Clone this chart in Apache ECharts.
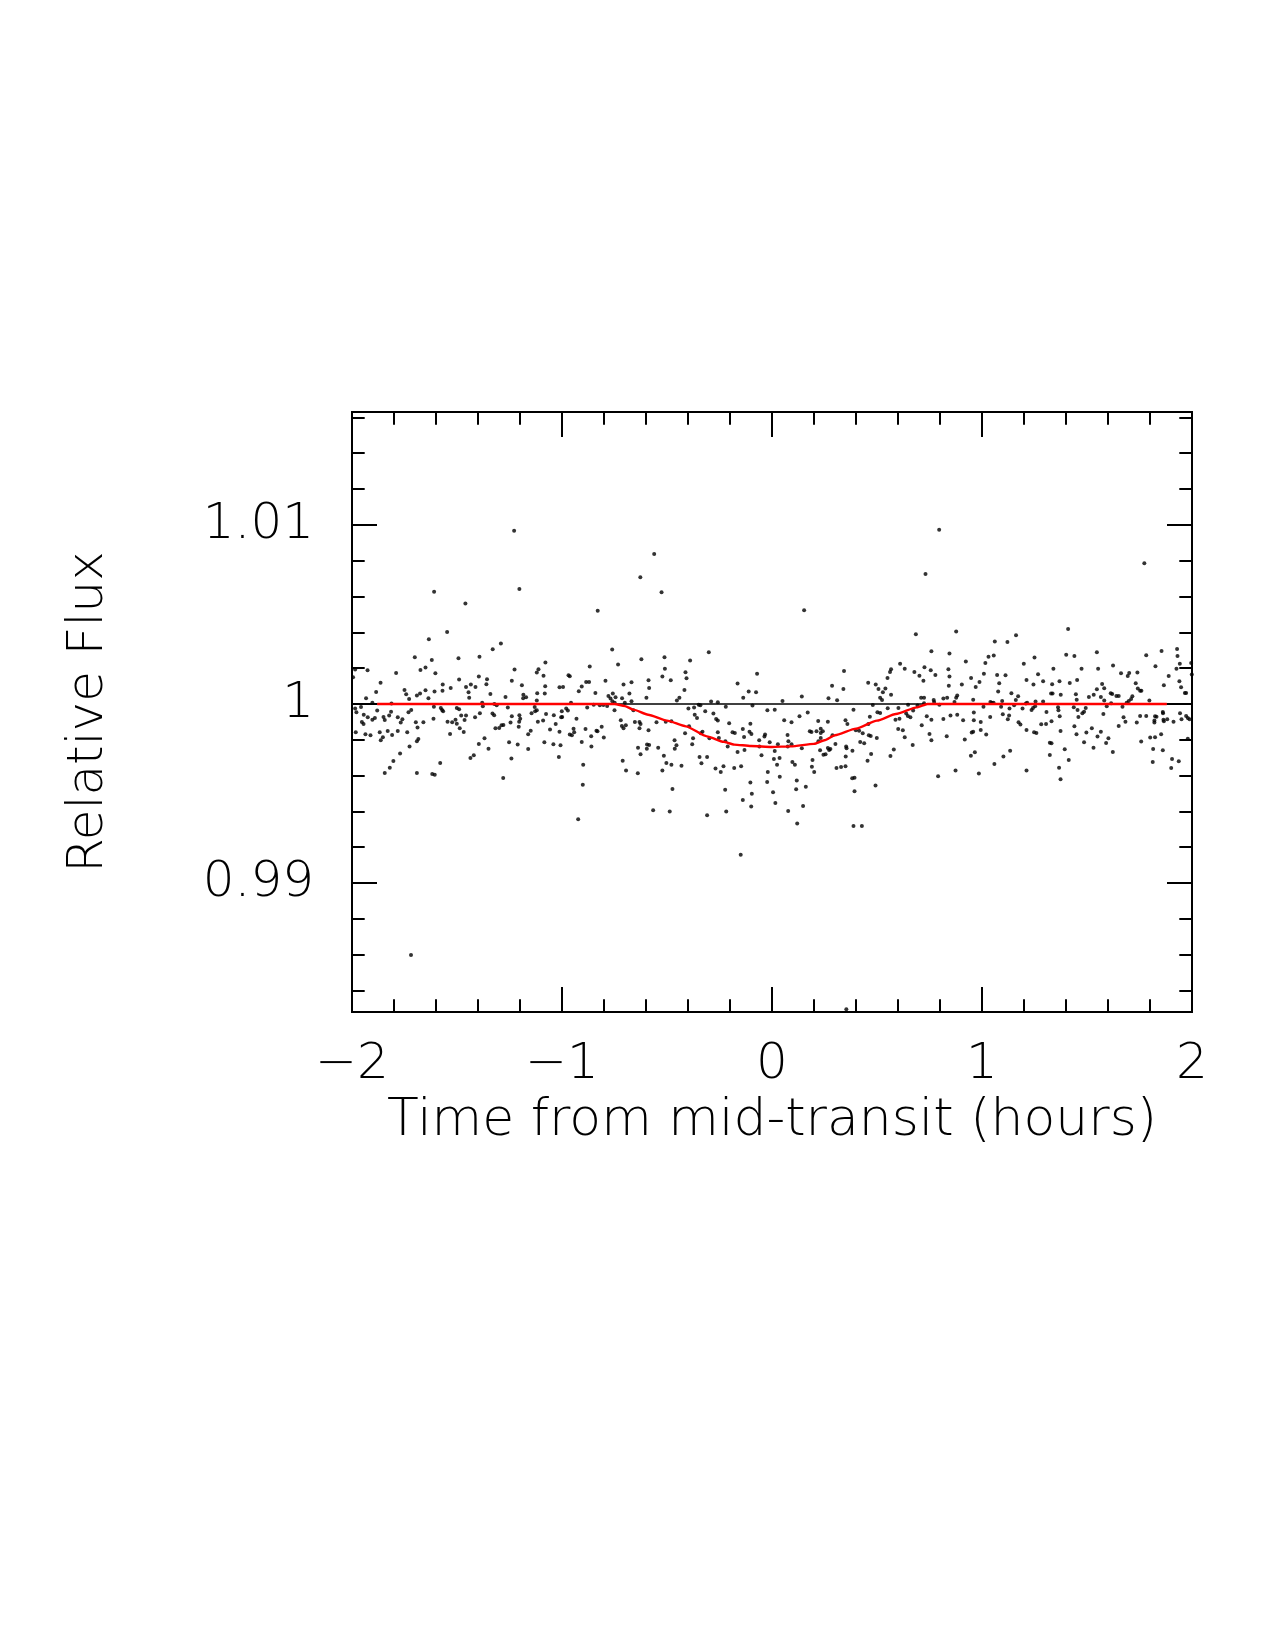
<!DOCTYPE html>
<html>
<head>
<meta charset="utf-8">
<title>Transit light curve</title>
<script src="https://cdn.jsdelivr.net/npm/echarts@6/dist/echarts.min.js"></script>
<style>
  html, body { margin: 0; padding: 0; background: #fff; }
  #chart { width: 1275px; height: 1650px; }
</style>
</head>
<body>
<div id="chart"></div>
<script>
// tick labels
const xMajorTicks = [-2, -1, 0, 1, 2]
const yMajorTicks = [0.99, 1, 1.01]
const yMinorTicks = [0.984, 0.986, 0.988, 0.99, 0.992, 0.994, 0.996, 0.998, 1, 1.002, 1.004, 1.006, 1.008, 1.01, 1.012, 1.014, 1.016]

// flat reference level (black)
const baseTime = [-2, 2]
const baseFlux = [1, 1]

// transit model (red)
const modelTime = [-1.88, -0.75, -0.70, -0.66, -0.59, -0.50, -0.41, -0.31, -0.23, -0.18, -0.10, 0, 0.09, 0.20, 0.25, 0.30, 0.40, 0.50, 0.59, 0.69, 0.74, 1.88]
const modelFlux = [1, 1, 0.99988, 0.99968, 0.9994, 0.99907, 0.99875, 0.99819, 0.99788, 0.99773, 0.99765, 0.9976, 0.99763, 0.99777, 0.99797, 0.99825, 0.99862, 0.99907, 0.99944, 0.99981, 1, 1]

// observed points [time (h), relative flux]
const obsPoints = [
  [-1.609,1.00626],[-1.547,1.00402],[-1.634,1.00361],[-1.701,1.00261],[-1.620,1.00246],[-1.650,1.00203],[-1.674,1.0019],[-1.985,1.00192],[-1.995,1.00149],[-1.926,1.00188],[-1.790,1.00173],[-1.603,1.00171],[-1.864,1.00119],[-1.568,1.00108],[-1.530,1.00089],[-1.750,1.00078],[-1.650,1.00076],[-1.607,1.00069],[-1.569,1.00074],[-1.885,1.00067],[-1.742,1.00054],[-1.691,1.00047],[-1.676,1.00058],[-1.933,1.00032],[-1.728,1.00028],[-1.636,1.00032],[-1.903,1.00006],[-1.812,1.00002],[-1.610,0.99985],[-1.957,0.99983],[-1.985,0.99974],[-1.577,0.99978],[-1.571,0.99966],[-1.718,0.99966],[-1.979,0.99953],[-1.880,0.99963],[-1.814,0.99957],[-1.731,0.99953],[-1.566,0.99959],[-1.944,0.9994],[-1.925,0.99926],[-1.823,0.99935],[-1.891,0.99922],[-1.850,0.99927],[-1.782,0.99926],[-1.903,0.99912],[-1.844,0.99911],[-1.612,0.99918],[-1.760,0.99914],[-1.768,0.99896],[-1.953,0.99899],[-1.945,0.99888],[-1.696,0.99898],[-1.660,0.99898],[-1.545,0.99901],[-1.523,0.99898],[-1.507,0.99912],[-1.982,0.99842],[-1.868,0.99842],[-1.830,0.99849],[-1.782,0.99849],[-1.737,0.99842],[-1.688,0.99868],[-1.533,0.99832],[-1.936,0.99831],[-1.912,0.99825],[-1.853,0.99814],[-1.863,0.99797],[-1.809,0.99827],[-1.684,0.99804],[-1.691,0.99791],[-1.726,0.99763],[-1.771,0.99723],[-1.803,0.99682],[-1.820,0.99644],[-1.844,0.99615],[-1.691,0.99615],[-1.618,0.99609],[-1.606,0.99605],[-1.580,0.9967],[-1.719,0.98598],
  [-1.203,1.00642],[-1.460,1.00561],[-1.291,1.00337],[-1.330,1.00305],[-1.493,1.00255],[-1.393,1.00264],[-1.079,1.00231],[-1.112,1.00194],[-1.120,1.00175],[-1.226,1.00192],[-1.088,1.00158],[-1.396,1.00153],[-1.490,1.00136],[-1.357,1.00138],[-1.239,1.0013],[-1.360,1.0011],[-1.434,1.00108],[-1.412,1.00095],[-1.457,1.00095],[-1.191,1.00104],[-1.080,1.00099],[-1.012,1.00093],[-1.445,1.00065],[-1.341,1.00056],[-1.184,1.00052],[-1.118,1.0006],[-1.082,1.00058],[-1.442,1.00034],[-1.269,1.00039],[-1.185,1.00032],[-1.171,1.00037],[-1.120,1.00019],[-1.380,1.00006],[-1.377,0.99987],[-1.322,1.0],[-1.311,0.99993],[-1.258,0.9998],[-1.130,0.99983],[-1.501,0.99978],[-1.490,0.9997],[-1.120,0.99965],[-1.145,0.99948],[-1.128,0.99959],[-1.391,0.99948],[-1.331,0.99946],[-1.323,0.99937],[-1.457,0.99935],[-1.480,0.99935],[-1.203,0.99937],[-1.239,0.99931],[-1.199,0.99918],[-1.414,0.99926],[-1.076,0.99944],[-1.039,0.99937],[-1.001,0.99959],[-1.464,0.99911],[-1.501,0.9989],[-1.487,0.99864],[-1.468,0.99844],[-1.317,0.99864],[-1.299,0.99866],[-1.288,0.99881],[-1.279,0.99883],[-1.245,0.99896],[-1.204,0.99901],[-1.206,0.99873],[-1.115,0.99901],[-1.090,0.99907],[-1.030,0.99888],[-1.004,0.99926],[-1.057,0.99857],[-1.012,0.99845],[-1.149,0.99851],[-1.161,0.99831],[-1.369,0.99808],[-1.396,0.99777],[-1.350,0.9975],[-1.252,0.99786],[-1.211,0.99773],[-1.161,0.99749],[-1.084,0.99786],[-1.041,0.99775],[-1.007,0.99769],[-1.436,0.99698],[-1.420,0.99713],[-1.241,0.99695],[-1.015,0.99704],[-1.280,0.99587],[-1.228,1.00967],
  [-0.526,1.00624],[-0.830,1.00521],[-0.761,1.00304],[-0.733,1.0022],[-0.622,1.0025],[-0.512,1.00261],[-0.510,1.00197],[-0.868,1.00209],[-0.969,1.0016],[-0.963,1.00155],[-0.522,1.00153],[-0.588,1.00132],[-0.793,1.0013],[-0.885,1.00123],[-0.871,1.00123],[-0.707,1.00108],[-0.669,1.00121],[-0.585,1.00089],[-0.906,1.00097],[-0.995,1.00095],[-0.920,1.00071],[-0.841,1.00061],[-0.679,1.00058],[-0.758,1.00058],[-0.779,1.00045],[-0.745,1.00037],[-0.769,1.0003],[-0.714,1.00032],[-0.669,1.00015],[-0.701,1.00006],[-0.598,1.00035],[-0.760,1.00015],[-0.749,1.00006],[-0.957,1.00007],[-0.849,0.99996],[-0.820,0.99993],[-0.803,0.99994],[-0.785,0.99989],[-0.880,0.9998],[-0.980,0.99974],[-0.972,0.99963],[-0.999,0.99927],[-0.750,0.99965],[-0.660,0.99965],[-0.931,0.99918],[-0.720,0.99909],[-0.715,0.99877],[-0.707,0.99864],[-0.696,0.99881],[-0.653,0.99899],[-0.631,0.99899],[-0.626,0.99888],[-0.631,0.99864],[-0.550,0.99898],[-0.588,0.99853],[-0.506,0.99901],[-0.945,0.99862],[-0.942,0.99842],[-0.963,0.99829],[-0.953,0.99825],[-0.888,0.9986],[-0.836,0.99851],[-0.831,0.99847],[-0.811,0.99873],[-0.861,0.99819],[-0.801,0.99812],[-0.906,0.99788],[-0.860,0.99762],[-0.638,0.99756],[-0.595,0.99773],[-0.585,0.99771],[-0.596,0.9975],[-0.626,0.99719],[-0.542,0.99756],[-0.515,0.99711],[-0.503,0.9967],[-0.711,0.99683],[-0.695,0.99629],[-0.639,0.99613],[-0.522,0.99628],[-0.899,0.99661],[-0.901,0.99549],[-0.566,0.99406],[-0.923,0.99356],[-0.561,1.00837],[-0.627,1.00708],
  [-0.301,1.00289],[-0.390,1.00242],[-0.412,1.00177],[-0.407,1.00143],[-0.071,1.00169],[-0.482,1.00132],[-0.164,1.00114],[-0.417,1.00078],[-0.441,1.00035],[-0.453,1.00019],[-0.111,1.00069],[-0.076,1.00065],[-0.137,1.00035],[-0.093,0.99991],[-0.290,1.00013],[-0.258,1.00009],[-0.349,0.99996],[-0.341,0.99993],[-0.398,0.99974],[-0.371,0.9998],[-0.318,0.99959],[-0.279,0.99946],[-0.220,0.99985],[-0.022,0.99965],[-0.368,0.99939],[-0.357,0.99922],[-0.266,0.99916],[-0.258,0.99907],[-0.479,0.99903],[-0.395,0.99875],[-0.204,0.99892],[-0.188,0.99842],[-0.177,0.99838],[-0.139,0.9986],[-0.103,0.9989],[-0.107,0.99845],[-0.098,0.99832],[-0.133,0.99816],[-0.258,0.99842],[-0.253,0.9981],[-0.414,0.99836],[-0.376,0.99808],[-0.380,0.99775],[-0.339,0.99836],[-0.331,0.99845],[-0.298,0.99808],[-0.464,0.99797],[-0.455,0.99769],[-0.463,0.9975],[-0.222,0.99791],[-0.211,0.99763],[-0.164,0.99732],[-0.131,0.99743],[-0.061,0.99797],[-0.060,0.99762],[-0.033,0.99829],[-0.036,0.99818],[-0.011,0.99786],[-0.050,0.99713],[-0.345,0.99704],[-0.336,0.99669],[-0.309,0.99704],[-0.479,0.99661],[-0.431,0.99655],[-0.269,0.99639],[-0.244,0.9962],[-0.231,0.99652],[-0.180,0.99642],[-0.147,0.99652],[-0.020,0.9962],[-0.103,0.99561],[-0.023,0.99564],[-0.474,0.99525],[-0.223,0.99521],[-0.139,0.99464],[-0.096,0.99499],[-0.099,0.99428],[-0.487,0.994],[-0.309,0.99378],[-0.218,0.99399],[-0.149,0.99158],
  [0.153,1.00523],[0.343,1.00184],[0.286,1.00102],[0.340,1.00084],[0.458,1.00119],[0.494,1.00108],[0.050,1.00017],[0.142,1.00041],[0.269,1.00032],[0.310,1.0002],[0.013,0.99968],[0.388,0.99968],[0.480,0.99994],[0.170,0.99952],[0.131,0.99931],[0.058,0.99909],[0.093,0.99898],[0.220,0.99905],[0.266,0.99901],[0.350,0.99909],[0.359,0.99888],[0.466,0.99929],[0.459,0.99888],[0.399,0.99853],[0.415,0.99851],[0.432,0.99836],[0.461,0.99825],[0.470,0.99821],[0.180,0.99847],[0.188,0.99844],[0.212,0.99847],[0.232,0.99862],[0.232,0.99838],[0.232,0.9981],[0.242,0.99847],[0.074,0.99827],[0.078,0.99791],[0.093,0.99775],[0.028,0.99775],[0.013,0.99737],[0.075,0.99762],[0.142,0.99752],[0.221,0.99791],[0.288,0.99825],[0.302,0.99777],[0.266,0.99754],[0.272,0.99743],[0.278,0.99749],[0.255,0.99719],[0.245,0.99717],[0.229,0.99741],[0.353,0.99763],[0.355,0.99752],[0.351,0.99706],[0.383,0.99739],[0.420,0.99788],[0.439,0.9978],[0.472,0.99721],[0.455,0.99683],[0.009,0.99693],[0.036,0.99698],[0.024,0.99661],[0.097,0.99676],[0.109,0.99661],[0.193,0.99687],[0.190,0.9965],[0.201,0.9962],[0.307,0.99642],[0.329,0.99648],[0.350,0.99652],[0.037,0.99594],[0.118,0.99572],[0.115,0.99523],[0.161,0.99538],[0.382,0.99585],[0.393,0.99588],[0.393,0.99512],[0.493,0.99544],[0.005,0.99507],[0.016,0.99447],[0.077,0.99402],[0.148,0.9943],[0.120,0.99333],[0.388,0.99318],[0.428,0.99318],[0.354,0.98295],
  [0.877,1.00404],[0.685,1.00389],[0.759,1.00294],[0.845,1.00281],[0.923,1.00237],[0.610,1.00225],[0.632,1.00196],[0.567,1.00194],[0.562,1.00179],[0.726,1.00205],[0.756,1.00188],[0.840,1.00194],[0.678,1.00179],[0.702,1.00158],[0.721,1.0013],[0.778,1.00162],[0.845,1.00153],[0.550,1.00145],[0.948,1.00145],[0.988,1.00123],[0.507,1.00084],[0.540,1.00086],[0.528,1.00065],[0.567,1.00052],[0.842,1.00101],[0.904,1.00108],[0.970,1.00095],[0.515,1.00035],[0.524,1.00022],[0.710,1.00034],[0.724,1.00034],[0.770,1.00022],[0.816,1.0003],[0.834,1.00034],[0.877,1.00034],[0.882,1.00047],[0.869,1.00011],[0.958,1.00024],[0.648,0.99996],[0.693,0.99991],[0.724,1.00004],[0.772,1.00011],[0.797,0.99996],[0.602,0.99978],[0.551,0.99976],[0.672,0.99963],[0.502,0.99953],[0.515,0.9995],[0.639,0.99946],[0.647,0.99933],[0.659,0.99926],[0.588,0.99912],[0.607,0.99918],[0.713,0.99881],[0.737,0.99931],[0.759,0.99912],[0.816,0.99916],[0.850,0.99935],[0.882,0.9994],[0.910,0.99909],[0.961,0.99952],[0.961,0.99909],[0.994,0.99899],[0.601,0.9986],[0.623,0.99853],[0.632,0.99814],[0.750,0.99832],[0.759,0.99797],[0.832,0.99819],[0.670,0.99771],[0.918,0.99801],[0.951,0.9984],[0.958,0.99845],[0.994,0.99855],[0.499,0.9981],[0.580,0.99745],[0.564,0.99709],[0.947,0.99711],[0.966,0.9973],[0.874,0.99629],[0.791,0.99596],[0.985,0.99611],[0.731,1.00726],[0.796,1.00973],
  [1.410,1.00419],[1.162,1.00384],[1.061,1.00348],[1.121,1.00346],[1.031,1.00264],[1.056,1.0027],[1.250,1.00259],[1.401,1.00274],[1.440,1.00268],[1.016,1.00229],[1.199,1.00225],[1.340,1.00196],[1.474,1.00197],[1.009,1.00168],[1.072,1.00162],[1.112,1.0016],[1.267,1.00166],[1.212,1.00134],[1.291,1.00127],[1.369,1.00127],[1.453,1.00134],[1.082,1.00115],[1.245,1.00108],[1.334,1.0011],[1.418,1.00117],[1.077,1.00069],[1.140,1.0006],[1.172,1.00043],[1.161,1.00022],[1.329,1.00058],[1.336,1.00058],[1.375,1.00052],[1.447,1.00054],[1.451,1.00024],[1.096,1.00017],[1.040,1.00011],[1.047,1.00006],[1.055,1.00006],[1.209,1.00002],[1.215,1.00007],[1.255,1.00013],[1.291,1.00013],[1.007,0.99985],[1.153,0.99993],[1.091,0.99985],[1.131,0.99974],[1.193,0.99974],[1.243,0.99978],[1.236,0.99966],[1.253,0.99987],[1.307,0.99955],[1.362,0.99981],[1.364,0.99965],[1.437,0.99981],[1.455,0.99966],[1.478,0.99948],[1.486,0.99957],[1.494,0.99978],[1.039,0.99927],[1.099,0.99942],[1.123,0.99914],[1.129,0.99935],[1.174,0.99898],[1.183,0.99885],[1.282,0.99886],[1.305,0.99888],[1.331,0.99903],[1.370,0.99931],[1.459,0.99927],[1.020,0.99829],[1.212,0.99855],[1.248,0.99842],[1.259,0.99838],[1.374,0.99849],[1.440,0.99875],[1.450,0.99831],[1.497,0.9984],[1.486,0.99786],[1.323,0.99784],[1.331,0.9978],[1.323,0.99715],[1.394,0.99747],[1.134,0.99739],[1.102,0.99706],[1.059,0.99665],[1.212,0.99629],[1.367,0.99644],[1.413,0.99687],[1.374,0.99579],
  [1.547,1.00289],[1.553,1.00197],[1.624,1.00214],[1.782,1.00272],[1.855,1.00296],[1.826,1.0021],[1.929,1.00307],[1.931,1.00268],[1.926,1.00197],[1.942,1.00225],[1.996,1.00229],[1.999,1.00164],[1.662,1.00171],[1.694,1.00156],[1.701,1.00173],[1.740,1.00175],[1.889,1.00156],[1.866,1.00104],[1.940,1.00127],[1.948,1.00093],[1.966,1.00061],[1.972,1.00061],[1.572,1.00112],[1.582,1.00088],[1.532,1.00052],[1.566,1.00039],[1.509,1.00039],[1.547,1.00082],[1.613,1.0006],[1.620,1.00056],[1.640,1.00045],[1.651,1.00045],[1.732,1.00115],[1.742,1.00086],[1.753,1.00074],[1.759,1.00073],[1.710,1.00028],[1.699,1.00017],[1.689,1.00006],[1.669,0.99985],[1.716,1.00043],[1.582,1.00019],[1.594,0.99987],[1.615,1.00004],[1.797,1.00019],[1.578,0.99944],[1.674,0.99926],[1.683,0.99901],[1.651,0.99877],[1.737,0.99896],[1.753,0.99933],[1.782,0.99933],[1.824,0.99931],[1.831,0.99929],[1.821,0.99907],[1.821,0.99896],[1.861,0.99955],[1.862,0.99948],[1.864,0.99912],[1.866,0.99903],[1.882,0.99914],[1.912,0.99901],[1.943,0.99948],[1.950,0.99914],[1.972,0.99933],[1.980,0.99922],[1.988,0.99914],[1.523,0.99864],[1.566,0.99845],[1.550,0.99818],[1.531,0.99756],[1.591,0.99782],[1.602,0.99808],[1.623,0.99732],[1.758,0.9979],[1.801,0.99812],[1.824,0.99814],[1.853,0.99831],[1.815,0.99749],[1.861,0.99741],[1.813,0.99676],[1.905,0.99693],[1.901,0.99642],[1.937,0.9968],[1.980,0.99806],[1.773,1.00785]
]

const FONT = '"DejaVu Sans", Roboto, sans-serif'
const black = '#000'
const zip = (a, b) => a.map((v, i) => [v, b[i]])

const textStyle = { fontFamily: FONT, fontWeight: 200, fontSize: 50, color: black }
const titleStyle = Object.assign({}, textStyle, { fontSize: 52 })
const tickLine = { color: black, width: 2 }

function xAxisCfg(pos, withLabels) {
  return {
    type: 'value', position: pos, min: -2, max: 2, interval: 1,
    axisLine: { show: true, onZero: false, lineStyle: { color: black, width: 2 } },
    axisTick: { show: true, inside: true, length: 25, lineStyle: tickLine },
    minorTick: { show: true, splitNumber: 5, length: 12.7, lineStyle: tickLine },
    splitLine: { show: false }, minorSplitLine: { show: false },
    axisLabel: Object.assign({
      show: withLabels, margin: 28, showMinLabel: true, showMaxLabel: true,
      formatter: v => (v < 0 ? '\u2212' + Math.abs(v) : String(v))
    }, textStyle),
    name: withLabels ? 'Time from mid-transit (hours)' : '',
    nameLocation: 'middle', nameGap: 83, nameTextStyle: titleStyle
  }
}

function yAxisCfg(pos, ticks, len, withLabels) {
  return {
    type: 'value', position: pos, min: 0.9828, max: 1.0163,
    axisLine: { show: true, onZero: false, lineStyle: { color: black, width: 2 } },
    axisTick: { show: true, inside: true, length: len, customValues: ticks, lineStyle: tickLine },
    splitLine: { show: false },
    axisLabel: Object.assign({ show: withLabels, margin: 38, customValues: yMajorTicks }, textStyle),
    name: withLabels ? 'Relative Flux' : '',
    nameLocation: 'middle', nameRotate: 90, nameGap: 238, nameTextStyle: textStyle
  }
}

const chart = echarts.init(document.getElementById('chart'), null, { renderer: 'canvas' })
chart.setOption({
  animation: false,
  backgroundColor: '#fff',
  grid: { left: 352, top: 412, width: 840, height: 600, containLabel: false },
  xAxis: [xAxisCfg('bottom', true), xAxisCfg('top', false)],
  yAxis: [
    yAxisCfg('left', yMajorTicks, 25, true),
    yAxisCfg('left', yMinorTicks, 12.7, false),
    yAxisCfg('right', yMajorTicks, 25, false),
    yAxisCfg('right', yMinorTicks, 12.7, false)
  ],
  series: [
    {
      type: 'line', data: zip(baseTime, baseFlux), symbol: 'none',
      lineStyle: { color: black, width: 1.6 }, z: 2, silent: true
    },
    {
      type: 'scatter', data: obsPoints, symbol: 'circle', symbolSize: 4,
      itemStyle: { color: black }, z: 3, silent: true
    },
    {
      type: 'line', data: zip(modelTime, modelFlux), symbol: 'none', smooth: 0.2,
      smoothMonotone: 'x', lineStyle: { color: '#ff0000', width: 2.4 }, z: 4, silent: true
    }
  ]
})
</script>
</body>
</html>
